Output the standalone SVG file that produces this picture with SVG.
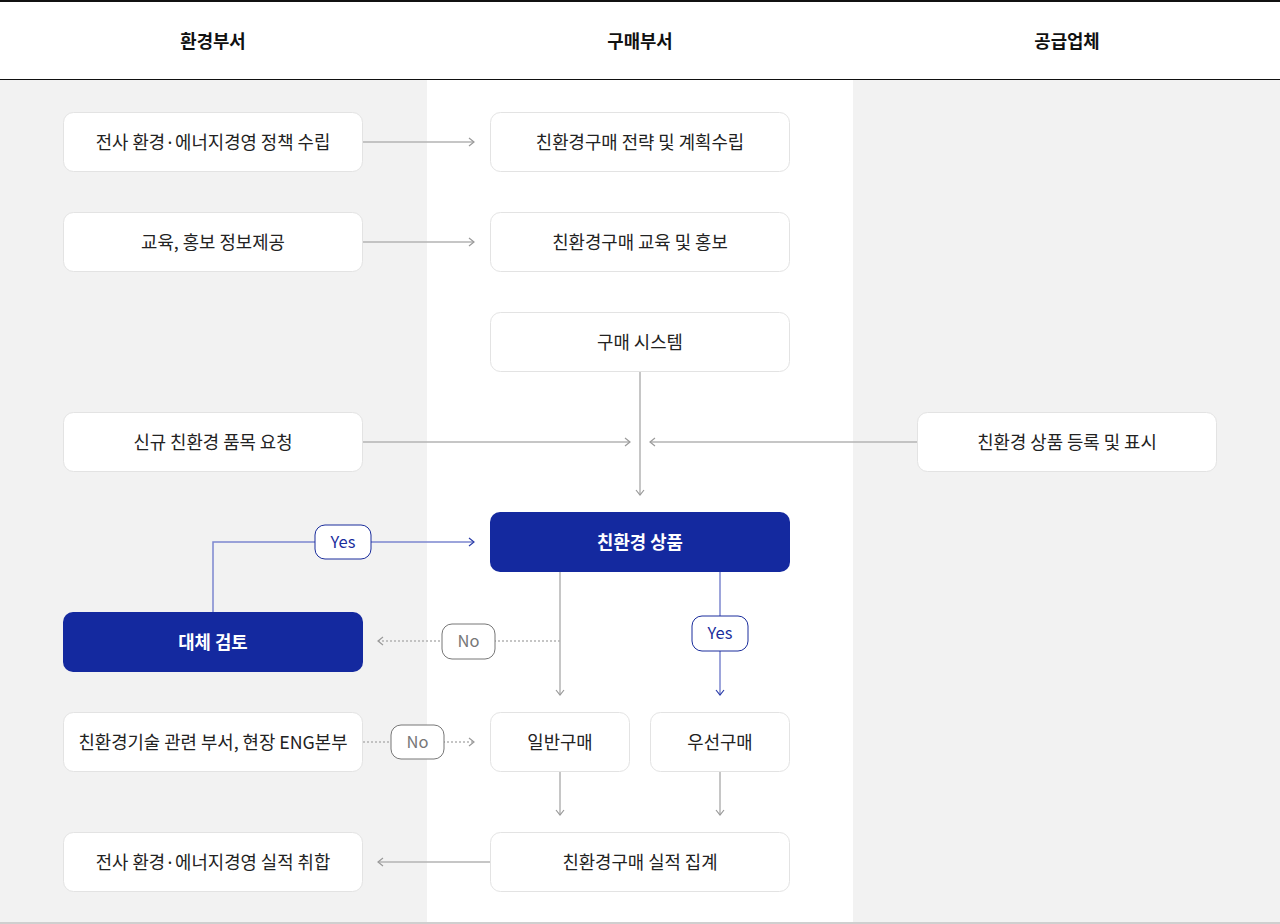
<svg xmlns="http://www.w3.org/2000/svg" width="1280" height="924" viewBox="0 0 1280 924">
<style>
text{font-family:"Noto Sans CJK KR","Noto Sans",sans-serif;font-size:17.8px;fill:#222;text-anchor:middle;dominant-baseline:central}
.h{font-weight:bold;font-size:17.8px;fill:#111}
.n rect{fill:#fff;stroke:#e3e3e3;stroke-width:1}
.d rect{fill:#14299f}
.d text{fill:#fff;font-weight:bold}
.g{fill:none;stroke:#b3b3b3;stroke-width:1.5}
.gd{fill:none;stroke:#b3b3b3;stroke-width:1.5;stroke-dasharray:2 2}
.b{fill:none;stroke:#7c87cf;stroke-width:1.5}
.lb rect{fill:#fff;stroke:#1a2d9c;stroke-width:1}
.lb text{fill:#1a2d9c;font-size:16.5px}
.ln rect{fill:#fff;stroke:#777;stroke-width:1}
.ln text{fill:#777;font-size:16.5px}
</style>
<defs>
<marker id="ag" viewBox="0 0 10 10" refX="9" refY="5" markerWidth="10" markerHeight="10" markerUnits="userSpaceOnUse" orient="auto"><path d="M4,1 L9,5 L4,9" fill="none" stroke="#999" stroke-width="1.2"/></marker>
<marker id="ab" viewBox="0 0 10 10" refX="9" refY="5" markerWidth="10" markerHeight="10" markerUnits="userSpaceOnUse" orient="auto"><path d="M4,1 L9,5 L4,9" fill="none" stroke="#2a3ca8" stroke-width="1.2"/></marker>
</defs>
<rect x="0" y="0" width="1280" height="924" fill="#fff"/>
<rect x="0" y="80" width="427" height="843" fill="#f2f2f2"/>
<rect x="853" y="80" width="427" height="843" fill="#f2f2f2"/>
<rect x="0" y="0" width="1280" height="2" fill="#111"/>
<rect x="0" y="79" width="1280" height="1" fill="#111"/>
<rect x="0" y="922" width="1280" height="2" fill="#cfcfcf"/>
<g id="headers">
<text class="h" x="213" y="40">환경부서</text>
<text class="h" x="640" y="40">구매부서</text>
<text class="h" x="1067" y="40">공급업체</text>
</g>
<g id="connectors">
<path class="g" d="M363,142 H474" marker-end="url(#ag)"/>
<path class="g" d="M363,242 H474" marker-end="url(#ag)"/>
<path class="g" d="M640,372 V495" marker-end="url(#ag)"/>
<path class="g" d="M363,442 H630" marker-end="url(#ag)"/>
<path class="g" d="M917,442 H650" marker-end="url(#ag)"/>
<path class="b" d="M213,612 V542 H474" marker-end="url(#ab)"/>
<path class="g" d="M560,572 V695" marker-end="url(#ag)"/>
<path class="gd" d="M560,641 H378" marker-end="url(#ag)"/>
<path class="b" d="M720,572 V695" marker-end="url(#ab)"/>
<path class="gd" d="M363,742 H474" marker-end="url(#ag)"/>
<path class="g" d="M560,772 V815" marker-end="url(#ag)"/>
<path class="g" d="M720,772 V815" marker-end="url(#ag)"/>
<path class="g" d="M490,862 H378" marker-end="url(#ag)"/>
<g class="lb"><rect x="315" y="525" width="56" height="34" rx="10"/><text x="343" y="541">Yes</text></g>
<g class="ln"><rect x="442" y="624" width="53" height="35" rx="10"/><text x="468.5" y="640">No</text></g>
<g class="lb"><rect x="692" y="616" width="56" height="35" rx="10"/><text x="720" y="632">Yes</text></g>
<g class="ln"><rect x="391" y="725" width="53" height="34" rx="10"/><text x="417.5" y="741">No</text></g>
</g>
<g id="n1" class="n"><rect x="63.5" y="112.5" width="299" height="59" rx="10"/><text x="213" y="141">전사 환경·에너지경영 정책 수립</text></g>
<g id="n2" class="n"><rect x="490.5" y="112.5" width="299" height="59" rx="10"/><text x="640" y="141">친환경구매 전략 및 계획수립</text></g>
<g id="n3" class="n"><rect x="63.5" y="212.5" width="299" height="59" rx="10"/><text x="213" y="241">교육, 홍보 정보제공</text></g>
<g id="n4" class="n"><rect x="490.5" y="212.5" width="299" height="59" rx="10"/><text x="640" y="241">친환경구매 교육 및 홍보</text></g>
<g id="n5" class="n"><rect x="490.5" y="312.5" width="299" height="59" rx="10"/><text x="640" y="341">구매 시스템</text></g>
<g id="n6" class="n"><rect x="63.5" y="412.5" width="299" height="59" rx="10"/><text x="213" y="441">신규 친환경 품목 요청</text></g>
<g id="n7" class="n"><rect x="917.5" y="412.5" width="299" height="59" rx="10"/><text x="1067" y="441">친환경 상품 등록 및 표시</text></g>
<g id="n8" class="d"><rect x="490" y="512" width="300" height="60" rx="10"/><text x="640" y="541">친환경 상품</text></g>
<g id="n9" class="d"><rect x="63" y="612" width="300" height="60" rx="10"/><text x="213" y="641">대체 검토</text></g>
<g id="n10" class="n"><rect x="63.5" y="712.5" width="299" height="59" rx="10"/><text x="213" y="741">친환경기술 관련 부서, 현장 ENG본부</text></g>
<g id="n11" class="n"><rect x="490.5" y="712.5" width="139" height="59" rx="10"/><text x="560" y="741">일반구매</text></g>
<g id="n12" class="n"><rect x="650.5" y="712.5" width="139" height="59" rx="10"/><text x="720" y="741">우선구매</text></g>
<g id="n13" class="n"><rect x="63.5" y="832.5" width="299" height="59" rx="10"/><text x="213" y="861">전사 환경·에너지경영 실적 취합</text></g>
<g id="n14" class="n"><rect x="490.5" y="832.5" width="299" height="59" rx="10"/><text x="640" y="861">친환경구매 실적 집계</text></g>
</svg>
